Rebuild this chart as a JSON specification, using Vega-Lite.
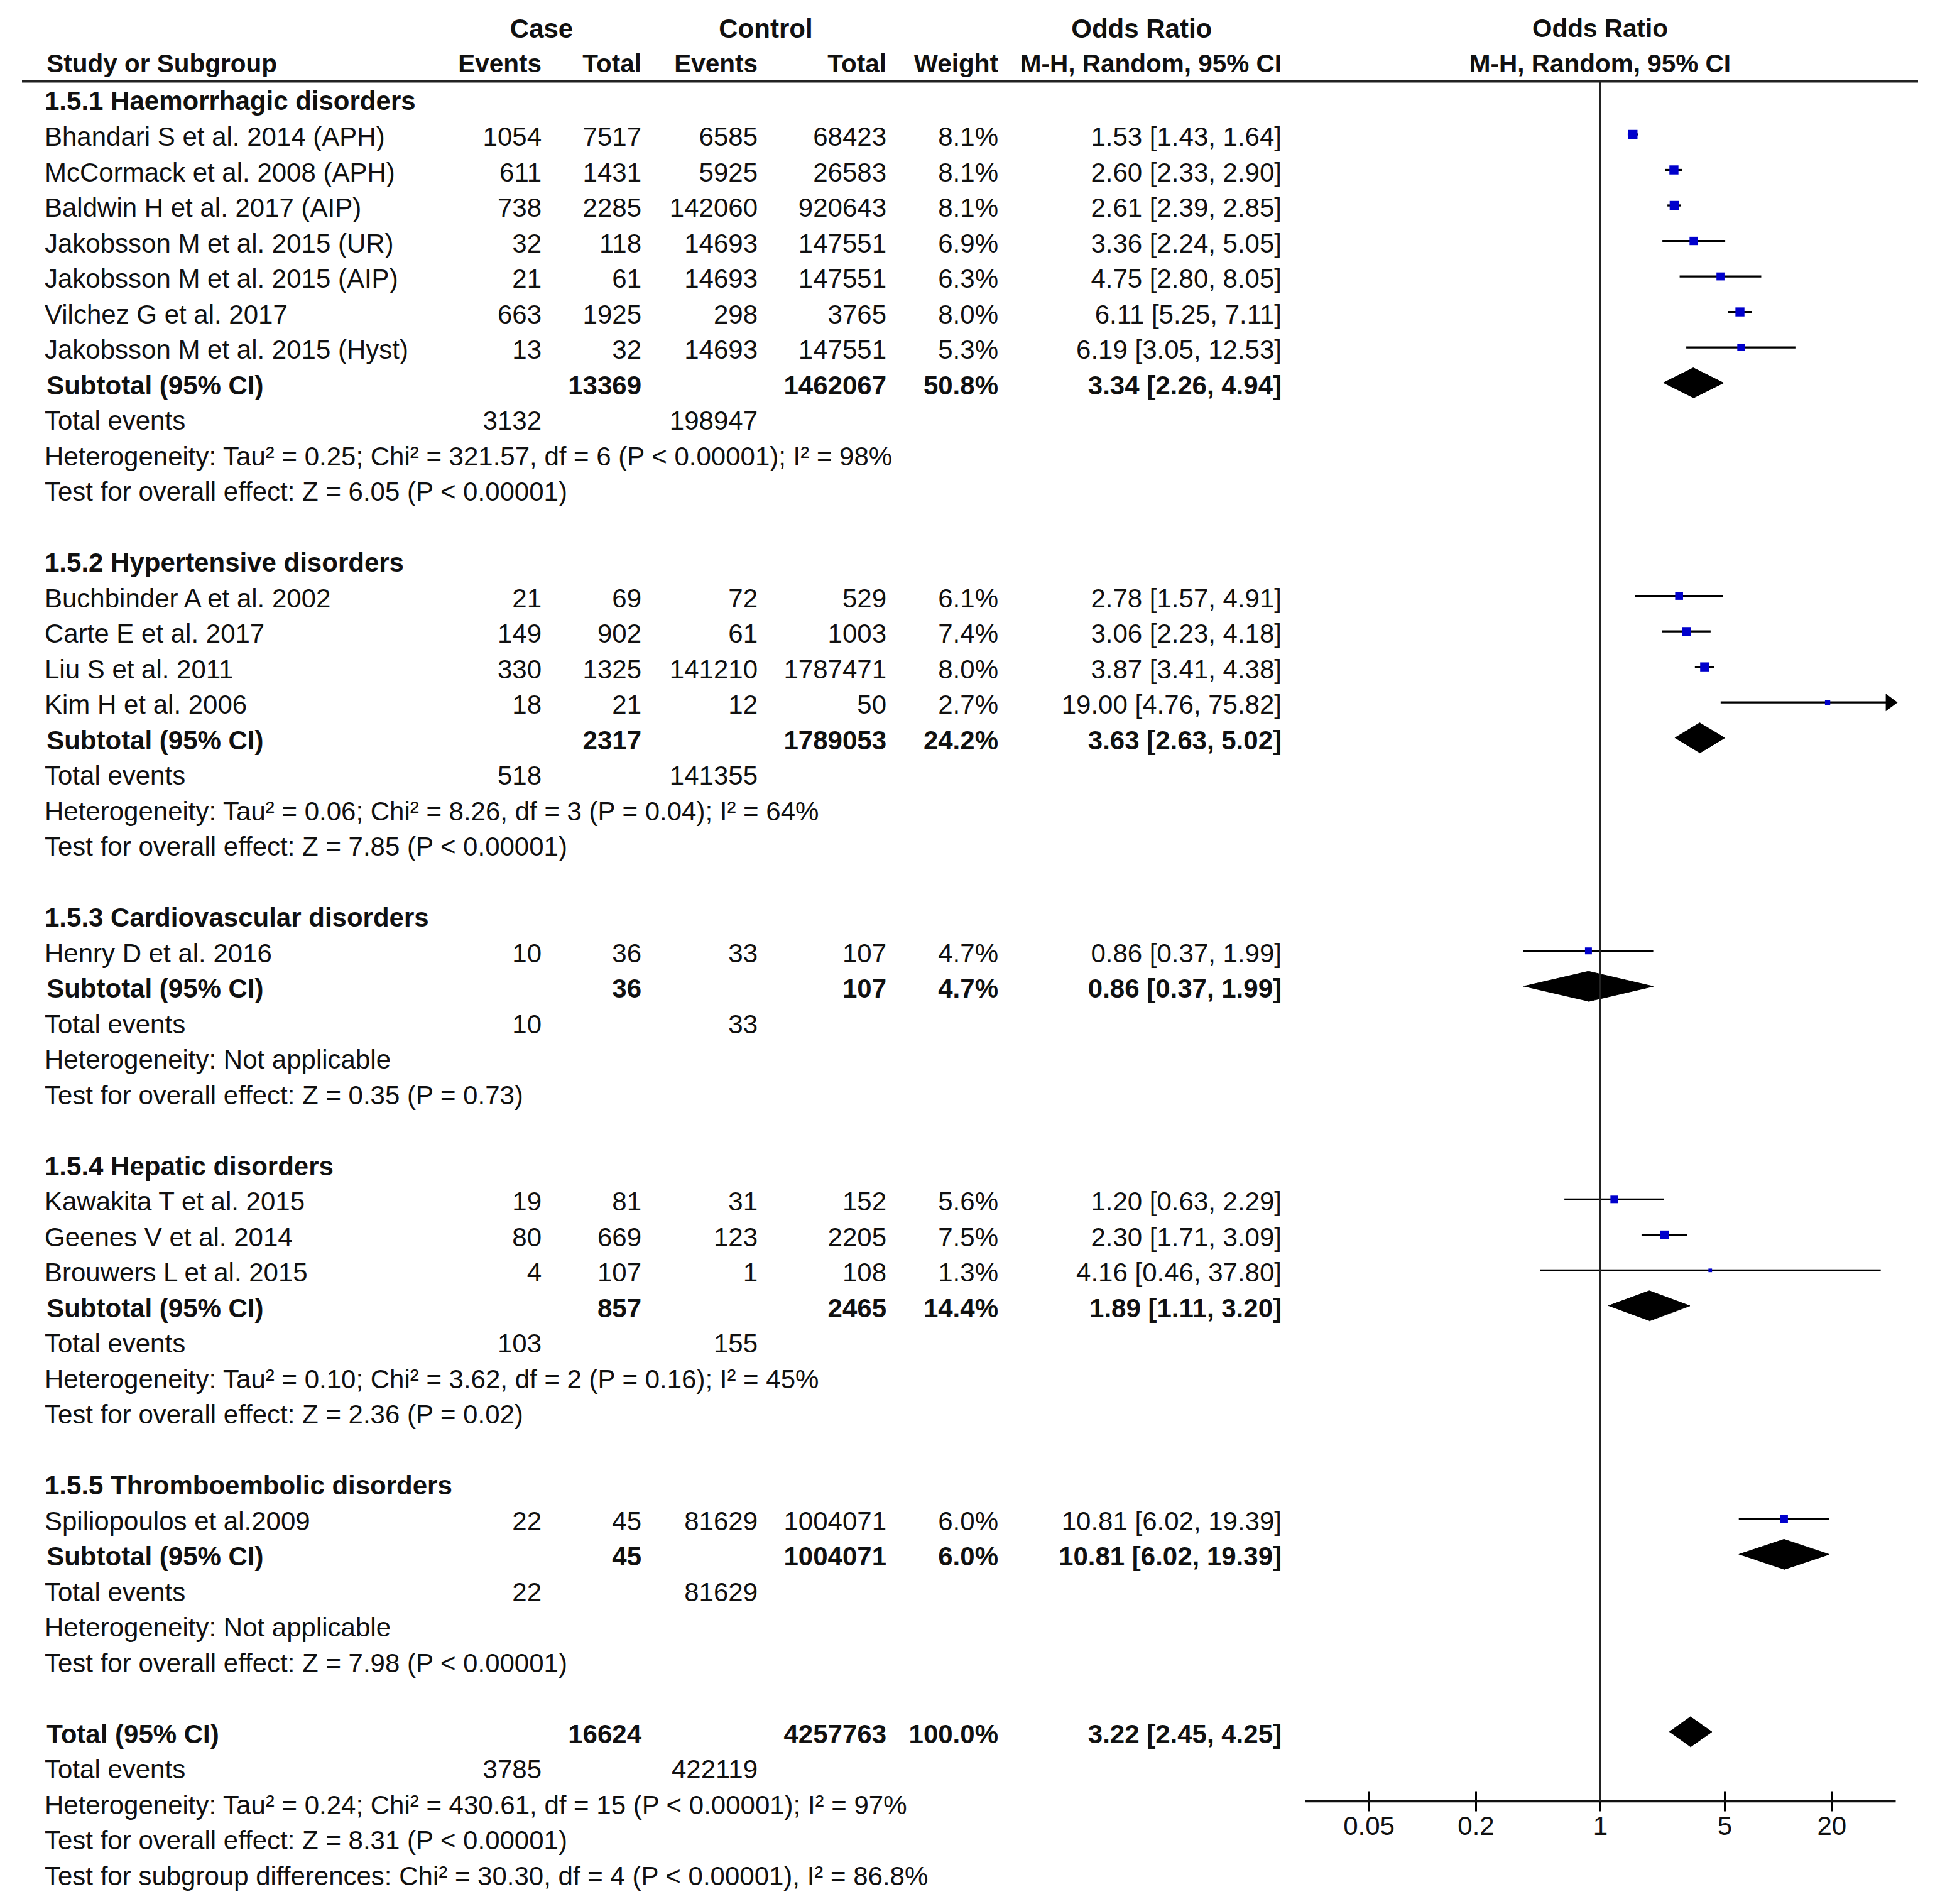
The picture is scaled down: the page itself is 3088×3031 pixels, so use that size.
{
  "$schema": "https://vega.github.io/schema/vega-lite/v6.json",
  "width": 3088,
  "height": 3031,
  "padding": 0,
  "autosize": {"type": "none"},
  "background": "white",
  "config": {
    "view": {"stroke": null},
    "text": {"font": "Liberation Sans", "fontSize": 42, "color": "#111111", "baseline": "middle", "dy": 5}
  },
  "datasets": {
    "studies": [
      {"line": 1, "study": "Bhandari S et al. 2014 (APH)", "ce": 1054, "ct": 7517, "ne": 6585, "nt": 68423, "w": 0.081, "est": 1.53, "lo": 1.43, "hi": 1.64, "ci": "1.53 [1.43, 1.64]"},
      {"line": 2, "study": "McCormack et al. 2008 (APH)", "ce": 611, "ct": 1431, "ne": 5925, "nt": 26583, "w": 0.081, "est": 2.60, "lo": 2.33, "hi": 2.90, "ci": "2.60 [2.33, 2.90]"},
      {"line": 3, "study": "Baldwin H et al. 2017 (AIP)", "ce": 738, "ct": 2285, "ne": 142060, "nt": 920643, "w": 0.081, "est": 2.61, "lo": 2.39, "hi": 2.85, "ci": "2.61 [2.39, 2.85]"},
      {"line": 4, "study": "Jakobsson M et al. 2015 (UR)", "ce": 32, "ct": 118, "ne": 14693, "nt": 147551, "w": 0.069, "est": 3.36, "lo": 2.24, "hi": 5.05, "ci": "3.36 [2.24, 5.05]"},
      {"line": 5, "study": "Jakobsson M et al. 2015 (AIP)", "ce": 21, "ct": 61, "ne": 14693, "nt": 147551, "w": 0.063, "est": 4.75, "lo": 2.80, "hi": 8.05, "ci": "4.75 [2.80, 8.05]"},
      {"line": 6, "study": "Vilchez G et al. 2017", "ce": 663, "ct": 1925, "ne": 298, "nt": 3765, "w": 0.080, "est": 6.11, "lo": 5.25, "hi": 7.11, "ci": "6.11 [5.25, 7.11]"},
      {"line": 7, "study": "Jakobsson M et al. 2015 (Hyst)", "ce": 13, "ct": 32, "ne": 14693, "nt": 147551, "w": 0.053, "est": 6.19, "lo": 3.05, "hi": 12.53, "ci": "6.19 [3.05, 12.53]"},
      {"line": 14, "study": "Buchbinder A  et al. 2002", "ce": 21, "ct": 69, "ne": 72, "nt": 529, "w": 0.061, "est": 2.78, "lo": 1.57, "hi": 4.91, "ci": "2.78 [1.57, 4.91]"},
      {"line": 15, "study": "Carte E  et al. 2017", "ce": 149, "ct": 902, "ne": 61, "nt": 1003, "w": 0.074, "est": 3.06, "lo": 2.23, "hi": 4.18, "ci": "3.06 [2.23, 4.18]"},
      {"line": 16, "study": "Liu S et al. 2011", "ce": 330, "ct": 1325, "ne": 141210, "nt": 1787471, "w": 0.080, "est": 3.87, "lo": 3.41, "hi": 4.38, "ci": "3.87 [3.41, 4.38]"},
      {"line": 17, "study": "Kim H et al. 2006", "ce": 18, "ct": 21, "ne": 12, "nt": 50, "w": 0.027, "est": 19.00, "lo": 4.76, "hi": 75.82, "ci": "19.00 [4.76, 75.82]"},
      {"line": 24, "study": "Henry D et al. 2016", "ce": 10, "ct": 36, "ne": 33, "nt": 107, "w": 0.047, "est": 0.86, "lo": 0.37, "hi": 1.99, "ci": "0.86 [0.37, 1.99]"},
      {"line": 31, "study": "Kawakita T et al. 2015", "ce": 19, "ct": 81, "ne": 31, "nt": 152, "w": 0.056, "est": 1.20, "lo": 0.63, "hi": 2.29, "ci": "1.20 [0.63, 2.29]"},
      {"line": 32, "study": "Geenes V et al. 2014", "ce": 80, "ct": 669, "ne": 123, "nt": 2205, "w": 0.075, "est": 2.30, "lo": 1.71, "hi": 3.09, "ci": "2.30 [1.71, 3.09]"},
      {"line": 33, "study": "Brouwers L et al. 2015", "ce": 4, "ct": 107, "ne": 1, "nt": 108, "w": 0.013, "est": 4.16, "lo": 0.46, "hi": 37.80, "ci": "4.16 [0.46, 37.80]"},
      {"line": 40, "study": "Spiliopoulos et al.2009", "ce": 22, "ct": 45, "ne": 81629, "nt": 1004071, "w": 0.060, "est": 10.81, "lo": 6.02, "hi": 19.39, "ci": "10.81 [6.02, 19.39]"}
    ],
    "subtotals": [
      {"line": 8, "label": "Subtotal (95% CI)", "ct": 13369, "nt": 1462067, "w": 0.508, "est": 3.34, "lo": 2.26, "hi": 4.94, "ci": "3.34 [2.26, 4.94]"},
      {"line": 18, "label": "Subtotal (95% CI)", "ct": 2317, "nt": 1789053, "w": 0.242, "est": 3.63, "lo": 2.63, "hi": 5.02, "ci": "3.63 [2.63, 5.02]"},
      {"line": 25, "label": "Subtotal (95% CI)", "ct": 36, "nt": 107, "w": 0.047, "est": 0.86, "lo": 0.37, "hi": 1.99, "ci": "0.86 [0.37, 1.99]"},
      {"line": 34, "label": "Subtotal (95% CI)", "ct": 857, "nt": 2465, "w": 0.144, "est": 1.89, "lo": 1.11, "hi": 3.20, "ci": "1.89 [1.11, 3.20]"},
      {"line": 41, "label": "Subtotal (95% CI)", "ct": 45, "nt": 1004071, "w": 0.060, "est": 10.81, "lo": 6.02, "hi": 19.39, "ci": "10.81 [6.02, 19.39]"},
      {"line": 46, "label": "Total (95% CI)", "ct": 16624, "nt": 4257763, "w": 1.0, "est": 3.22, "lo": 2.45, "hi": 4.25, "ci": "3.22 [2.45, 4.25]"}
    ],
    "events": [
      {"line": 9, "ce": 3132, "ne": 198947},
      {"line": 19, "ce": 518, "ne": 141355},
      {"line": 26, "ce": 10, "ne": 33},
      {"line": 35, "ce": 103, "ne": 155},
      {"line": 42, "ce": 22, "ne": 81629},
      {"line": 47, "ce": 3785, "ne": 422119}
    ],
    "notes": [
      {"line": 0, "text": "1.5.1 Haemorrhagic disorders", "kind": "heading"},
      {"line": 10, "text": "Heterogeneity: Tau² = 0.25; Chi² = 321.57, df = 6 (P < 0.00001); I² = 98%", "kind": "note"},
      {"line": 11, "text": "Test for overall effect: Z = 6.05 (P < 0.00001)", "kind": "note"},
      {"line": 13, "text": "1.5.2 Hypertensive disorders", "kind": "heading"},
      {"line": 20, "text": "Heterogeneity: Tau² = 0.06; Chi² = 8.26, df = 3 (P = 0.04); I² = 64%", "kind": "note"},
      {"line": 21, "text": "Test for overall effect: Z = 7.85 (P < 0.00001)", "kind": "note"},
      {"line": 23, "text": "1.5.3 Cardiovascular disorders", "kind": "heading"},
      {"line": 27, "text": "Heterogeneity: Not applicable", "kind": "note"},
      {"line": 28, "text": "Test for overall effect: Z = 0.35 (P = 0.73)", "kind": "note"},
      {"line": 30, "text": "1.5.4 Hepatic disorders", "kind": "heading"},
      {"line": 36, "text": "Heterogeneity: Tau² = 0.10; Chi² = 3.62, df = 2 (P = 0.16); I² = 45%", "kind": "note"},
      {"line": 37, "text": "Test for overall effect: Z = 2.36 (P = 0.02)", "kind": "note"},
      {"line": 39, "text": "1.5.5 Thromboembolic disorders", "kind": "heading"},
      {"line": 43, "text": "Heterogeneity: Not applicable", "kind": "note"},
      {"line": 44, "text": "Test for overall effect: Z = 7.98 (P < 0.00001)", "kind": "note"},
      {"line": 48, "text": "Heterogeneity: Tau² = 0.24; Chi² = 430.61, df = 15 (P < 0.00001); I² = 97%", "kind": "note"},
      {"line": 49, "text": "Test for overall effect: Z = 8.31 (P < 0.00001)", "kind": "note"},
      {"line": 50, "text": "Test for subgroup differences: Chi² = 30.30, df = 4 (P < 0.00001), I² = 86.8%", "kind": "note"}
    ]
  },
  "resolve": {"scale": {"x": "independent", "y": "independent"}, "axis": {"x": "independent"}},
  "layer": [
    {
      "data": {"name": "studies"},
      "mark": {"type": "rule", "color": "#000000", "strokeWidth": 3.3},
      "encoding": {
        "x": {"field": "lo", "type": "quantitative", "scale": {"type": "log", "domain": [0.0219, 45.7], "range": [2077, 3017], "clamp": true, "nice": false},
              "axis": {"orient": "top", "offset": -2867, "values": [0.05, 0.2, 1, 5, 20], "title": null, "grid": false, "domain": false, "labels": false, "ticks": true, "tickSize": 16, "tickWidth": 3, "tickColor": "#000000"}},
        "x2": {"field": "hi"},
        "y": {"field": "line", "type": "quantitative", "scale": {"domain": [-2.787, 50.85], "reverse": true, "nice": false, "zero": false}, "axis": null}
      }
    },
    {
      "data": {"name": "studies"},
      "transform": [{"filter": "datum.hi > 45.7"}],
      "mark": {"type": "point", "shape": "M-1.1,-1L0.25,0L-1.1,1Z", "filled": true, "color": "#000000", "opacity": 1, "size": 784},
      "encoding": {
        "x": {"field": "hi", "type": "quantitative", "scale": {"type": "log", "domain": [0.0219, 45.7], "range": [2077, 3017], "clamp": true, "nice": false}, "axis": null},
        "y": {"field": "line", "type": "quantitative", "scale": {"domain": [-2.787, 50.85], "reverse": true, "nice": false, "zero": false}, "axis": null}
      }
    },
    {
      "data": {"name": "studies"},
      "mark": {"type": "square", "filled": true, "color": "#0000CC", "opacity": 1},
      "encoding": {
        "x": {"field": "est", "type": "quantitative", "scale": {"type": "log", "domain": [0.0219, 45.7], "range": [2077, 3017], "clamp": true, "nice": false}, "axis": null},
        "y": {"field": "line", "type": "quantitative", "scale": {"domain": [-2.787, 50.85], "reverse": true, "nice": false, "zero": false}, "axis": null},
        "size": {"field": "w", "type": "quantitative", "scale": {"domain": [0, 0.1], "range": [0, 258]}, "legend": null}
      }
    },
    {
      "data": {"name": "subtotals"},
      "transform": [
        {"fold": ["lo", "est", "hi", "est"], "as": ["point", "value"]},
        {"window": [{"op": "row_number", "as": "vertex"}], "groupby": ["line"]}
      ],
      "mark": {"type": "line", "fill": "#000000", "stroke": "#000000", "strokeWidth": 1, "opacity": 1},
      "encoding": {
        "x": {"field": "value", "type": "quantitative", "scale": {"type": "log", "domain": [0.0219, 45.7], "range": [2077, 3017], "clamp": true, "nice": false}, "axis": null},
        "y": {"field": "line", "type": "ordinal", "scale": {"type": "band", "domain": [0,1,2,3,4,5,6,7,8,9,10,11,12,13,14,15,16,17,18,19,20,21,22,23,24,25,26,27,28,29,30,31,32,33,34,35,36,37,38,39,40,41,42,43,44,45,46,47,48,49,50], "range": [129.245, 3011.255], "paddingInner": 0, "paddingOuter": 0}, "axis": null},
        "yOffset": {"field": "vertex", "type": "quantitative", "scale": {"domain": [1, 2, 3, 4], "range": [28.255, 4.255, 28.255, 52.255], "nice": false, "zero": false}},
        "order": {"field": "vertex", "type": "quantitative"},
        "detail": {"field": "line", "type": "nominal"}
      }
    },
    {
      "data": {"values": [{"ref": 1}]},
      "mark": {"type": "rule", "color": "#222222", "strokeWidth": 3.3},
      "encoding": {
        "x": {"field": "ref", "type": "quantitative", "scale": {"type": "log", "domain": [0.0219, 45.7], "range": [2077, 3017], "clamp": true, "nice": false},
              "axis": {"orient": "bottom", "offset": -164, "values": [0.05, 0.2, 1, 5, 20], "format": "~g", "title": null, "grid": false, "domain": true, "domainColor": "#111111", "domainWidth": 3.5, "ticks": true, "tickSize": 16, "tickWidth": 3, "tickColor": "#000000", "labels": true, "labelFont": "Liberation Sans", "labelFontSize": 42, "labelColor": "#111111", "labelPadding": 4, "labelFlush": false, "labelOverlap": false}},
        "y": {"datum": -0.5, "type": "quantitative", "scale": {"domain": [-2.787, 50.85], "reverse": true, "nice": false, "zero": false}, "axis": null},
        "y2": {"datum": 47.95}
      }
    },
    {
      "data": {"values": [{"rule": "header"}]},
      "mark": {"type": "rule", "color": "#222222", "strokeWidth": 4.5},
      "encoding": {
        "x": {"datum": 0, "type": "quantitative", "scale": {"domain": [0, 1, 2, 3, 4, 5, 6, 7, 8], "range": [35, 71, 862, 1021, 1206, 1411, 1589, 2040, 3053], "nice": false, "zero": false}, "axis": null},
        "x2": {"datum": 8},
        "y": {"datum": -0.5, "type": "quantitative", "scale": {"domain": [-2.787, 50.85], "reverse": true, "nice": false, "zero": false}, "axis": null}
      }
    },
    {
      "data": {"values": [{"label": "Case"}]},
      "mark": {"type": "text", "align": "center", "fontWeight": "bold"},
      "encoding": {
        "x": {"datum": 2, "type": "quantitative", "scale": {"domain": [0, 1, 2, 3, 4, 5, 6, 7, 8], "range": [35, 71, 862, 1021, 1206, 1411, 1589, 2040, 3053], "nice": false, "zero": false}, "axis": null},
        "y": {"datum": -2.05, "type": "quantitative", "scale": {"domain": [-2.787, 50.85], "reverse": true, "nice": false, "zero": false}, "axis": null},
        "text": {"field": "label"}
      }
    },
    {
      "data": {"values": [{"label": "Control"}]},
      "mark": {"type": "text", "align": "center", "fontWeight": "bold"},
      "encoding": {
        "x": {"datum": 4.063, "type": "quantitative", "scale": {"domain": [0, 1, 2, 3, 4, 5, 6, 7, 8], "range": [35, 71, 862, 1021, 1206, 1411, 1589, 2040, 3053], "nice": false, "zero": false}, "axis": null},
        "y": {"datum": -2.05, "type": "quantitative", "scale": {"domain": [-2.787, 50.85], "reverse": true, "nice": false, "zero": false}, "axis": null},
        "text": {"field": "label"}
      }
    },
    {
      "data": {"values": [{"label": "Odds Ratio"}]},
      "mark": {"type": "text", "align": "center", "fontWeight": "bold"},
      "encoding": {
        "x": {"datum": 6.506, "type": "quantitative", "scale": {"domain": [0, 1, 2, 3, 4, 5, 6, 7, 8], "range": [35, 71, 862, 1021, 1206, 1411, 1589, 2040, 3053], "nice": false, "zero": false}, "axis": null},
        "y": {"datum": -2.05, "type": "quantitative", "scale": {"domain": [-2.787, 50.85], "reverse": true, "nice": false, "zero": false}, "axis": null},
        "text": {"field": "label"}
      }
    },
    {
      "data": {"values": [{"label": "Study or Subgroup"}]},
      "mark": {"type": "text", "align": "left", "fontWeight": "bold", "fontSize": 40.5},
      "encoding": {
        "x": {"datum": 1.004, "type": "quantitative", "scale": {"domain": [0, 1, 2, 3, 4, 5, 6, 7, 8], "range": [35, 71, 862, 1021, 1206, 1411, 1589, 2040, 3053], "nice": false, "zero": false}, "axis": null},
        "y": {"datum": -1.06, "type": "quantitative", "scale": {"domain": [-2.787, 50.85], "reverse": true, "nice": false, "zero": false}, "axis": null},
        "text": {"field": "label"}
      }
    },
    {
      "data": {"values": [{"label": "Events", "col": 2}, {"label": "Total", "col": 3}, {"label": "Events", "col": 4}, {"label": "Total", "col": 5}, {"label": "Weight", "col": 6}, {"label": "M-H, Random, 95% CI", "col": 7}]},
      "mark": {"type": "text", "align": "right", "fontWeight": "bold", "fontSize": 40.5},
      "encoding": {
        "x": {"field": "col", "type": "quantitative", "scale": {"domain": [0, 1, 2, 3, 4, 5, 6, 7, 8], "range": [35, 71, 862, 1021, 1206, 1411, 1589, 2040, 3053], "nice": false, "zero": false}, "axis": null},
        "y": {"datum": -1.06, "type": "quantitative", "scale": {"domain": [-2.787, 50.85], "reverse": true, "nice": false, "zero": false}, "axis": null},
        "text": {"field": "label"}
      }
    },
    {
      "data": {"values": [{"label": "Odds Ratio", "ref": 1, "tier": -2.05}, {"label": "M-H, Random, 95% CI", "ref": 1, "tier": -1.06}]},
      "mark": {"type": "text", "align": "center", "fontWeight": "bold", "fontSize": 40.5},
      "encoding": {
        "x": {"field": "ref", "type": "quantitative", "scale": {"type": "log", "domain": [0.0219, 45.7], "range": [2077, 3017], "clamp": true, "nice": false}, "axis": null},
        "y": {"field": "tier", "type": "quantitative", "scale": {"domain": [-2.787, 50.85], "reverse": true, "nice": false, "zero": false}, "axis": null},
        "text": {"field": "label"}
      }
    },
    {
      "data": {"name": "notes"},
      "transform": [{"filter": "datum.kind == 'heading'"}],
      "mark": {"type": "text", "align": "left", "fontWeight": "bold"},
      "encoding": {
        "x": {"datum": 1, "type": "quantitative", "scale": {"domain": [0, 1, 2, 3, 4, 5, 6, 7, 8], "range": [35, 71, 862, 1021, 1206, 1411, 1589, 2040, 3053], "nice": false, "zero": false}, "axis": null},
        "y": {"field": "line", "type": "quantitative", "scale": {"domain": [-2.787, 50.85], "reverse": true, "nice": false, "zero": false}, "axis": null},
        "text": {"field": "text"}
      }
    },
    {
      "data": {"name": "notes"},
      "transform": [{"filter": "datum.kind == 'note'"}],
      "mark": {"type": "text", "align": "left"},
      "encoding": {
        "x": {"datum": 1, "type": "quantitative", "scale": {"domain": [0, 1, 2, 3, 4, 5, 6, 7, 8], "range": [35, 71, 862, 1021, 1206, 1411, 1589, 2040, 3053], "nice": false, "zero": false}, "axis": null},
        "y": {"field": "line", "type": "quantitative", "scale": {"domain": [-2.787, 50.85], "reverse": true, "nice": false, "zero": false}, "axis": null},
        "text": {"field": "text"}
      }
    },
    {
      "data": {"name": "studies"},
      "mark": {"type": "text", "align": "left"},
      "encoding": {
        "x": {"datum": 1, "type": "quantitative", "scale": {"domain": [0, 1, 2, 3, 4, 5, 6, 7, 8], "range": [35, 71, 862, 1021, 1206, 1411, 1589, 2040, 3053], "nice": false, "zero": false}, "axis": null},
        "y": {"field": "line", "type": "quantitative", "scale": {"domain": [-2.787, 50.85], "reverse": true, "nice": false, "zero": false}, "axis": null},
        "text": {"field": "study"}
      }
    },
    {
      "data": {"name": "studies"},
      "mark": {"type": "text", "align": "right"},
      "encoding": {
        "x": {"datum": 2, "type": "quantitative", "scale": {"domain": [0, 1, 2, 3, 4, 5, 6, 7, 8], "range": [35, 71, 862, 1021, 1206, 1411, 1589, 2040, 3053], "nice": false, "zero": false}, "axis": null},
        "y": {"field": "line", "type": "quantitative", "scale": {"domain": [-2.787, 50.85], "reverse": true, "nice": false, "zero": false}, "axis": null},
        "text": {"field": "ce", "type": "quantitative", "format": "d"}
      }
    },
    {
      "data": {"name": "studies"},
      "mark": {"type": "text", "align": "right"},
      "encoding": {
        "x": {"datum": 3, "type": "quantitative", "scale": {"domain": [0, 1, 2, 3, 4, 5, 6, 7, 8], "range": [35, 71, 862, 1021, 1206, 1411, 1589, 2040, 3053], "nice": false, "zero": false}, "axis": null},
        "y": {"field": "line", "type": "quantitative", "scale": {"domain": [-2.787, 50.85], "reverse": true, "nice": false, "zero": false}, "axis": null},
        "text": {"field": "ct", "type": "quantitative", "format": "d"}
      }
    },
    {
      "data": {"name": "studies"},
      "mark": {"type": "text", "align": "right"},
      "encoding": {
        "x": {"datum": 4, "type": "quantitative", "scale": {"domain": [0, 1, 2, 3, 4, 5, 6, 7, 8], "range": [35, 71, 862, 1021, 1206, 1411, 1589, 2040, 3053], "nice": false, "zero": false}, "axis": null},
        "y": {"field": "line", "type": "quantitative", "scale": {"domain": [-2.787, 50.85], "reverse": true, "nice": false, "zero": false}, "axis": null},
        "text": {"field": "ne", "type": "quantitative", "format": "d"}
      }
    },
    {
      "data": {"name": "studies"},
      "mark": {"type": "text", "align": "right"},
      "encoding": {
        "x": {"datum": 5, "type": "quantitative", "scale": {"domain": [0, 1, 2, 3, 4, 5, 6, 7, 8], "range": [35, 71, 862, 1021, 1206, 1411, 1589, 2040, 3053], "nice": false, "zero": false}, "axis": null},
        "y": {"field": "line", "type": "quantitative", "scale": {"domain": [-2.787, 50.85], "reverse": true, "nice": false, "zero": false}, "axis": null},
        "text": {"field": "nt", "type": "quantitative", "format": "d"}
      }
    },
    {
      "data": {"name": "studies"},
      "mark": {"type": "text", "align": "right"},
      "encoding": {
        "x": {"datum": 6, "type": "quantitative", "scale": {"domain": [0, 1, 2, 3, 4, 5, 6, 7, 8], "range": [35, 71, 862, 1021, 1206, 1411, 1589, 2040, 3053], "nice": false, "zero": false}, "axis": null},
        "y": {"field": "line", "type": "quantitative", "scale": {"domain": [-2.787, 50.85], "reverse": true, "nice": false, "zero": false}, "axis": null},
        "text": {"field": "w", "type": "quantitative", "format": ".1%"}
      }
    },
    {
      "data": {"name": "studies"},
      "mark": {"type": "text", "align": "right"},
      "encoding": {
        "x": {"datum": 7, "type": "quantitative", "scale": {"domain": [0, 1, 2, 3, 4, 5, 6, 7, 8], "range": [35, 71, 862, 1021, 1206, 1411, 1589, 2040, 3053], "nice": false, "zero": false}, "axis": null},
        "y": {"field": "line", "type": "quantitative", "scale": {"domain": [-2.787, 50.85], "reverse": true, "nice": false, "zero": false}, "axis": null},
        "text": {"field": "ci"}
      }
    },
    {
      "data": {"name": "subtotals"},
      "mark": {"type": "text", "align": "left", "fontWeight": "bold"},
      "encoding": {
        "x": {"datum": 1.004, "type": "quantitative", "scale": {"domain": [0, 1, 2, 3, 4, 5, 6, 7, 8], "range": [35, 71, 862, 1021, 1206, 1411, 1589, 2040, 3053], "nice": false, "zero": false}, "axis": null},
        "y": {"field": "line", "type": "quantitative", "scale": {"domain": [-2.787, 50.85], "reverse": true, "nice": false, "zero": false}, "axis": null},
        "text": {"field": "label"}
      }
    },
    {
      "data": {"name": "subtotals"},
      "mark": {"type": "text", "align": "right", "fontWeight": "bold"},
      "encoding": {
        "x": {"datum": 3, "type": "quantitative", "scale": {"domain": [0, 1, 2, 3, 4, 5, 6, 7, 8], "range": [35, 71, 862, 1021, 1206, 1411, 1589, 2040, 3053], "nice": false, "zero": false}, "axis": null},
        "y": {"field": "line", "type": "quantitative", "scale": {"domain": [-2.787, 50.85], "reverse": true, "nice": false, "zero": false}, "axis": null},
        "text": {"field": "ct", "type": "quantitative", "format": "d"}
      }
    },
    {
      "data": {"name": "subtotals"},
      "mark": {"type": "text", "align": "right", "fontWeight": "bold"},
      "encoding": {
        "x": {"datum": 5, "type": "quantitative", "scale": {"domain": [0, 1, 2, 3, 4, 5, 6, 7, 8], "range": [35, 71, 862, 1021, 1206, 1411, 1589, 2040, 3053], "nice": false, "zero": false}, "axis": null},
        "y": {"field": "line", "type": "quantitative", "scale": {"domain": [-2.787, 50.85], "reverse": true, "nice": false, "zero": false}, "axis": null},
        "text": {"field": "nt", "type": "quantitative", "format": "d"}
      }
    },
    {
      "data": {"name": "subtotals"},
      "mark": {"type": "text", "align": "right", "fontWeight": "bold"},
      "encoding": {
        "x": {"datum": 6, "type": "quantitative", "scale": {"domain": [0, 1, 2, 3, 4, 5, 6, 7, 8], "range": [35, 71, 862, 1021, 1206, 1411, 1589, 2040, 3053], "nice": false, "zero": false}, "axis": null},
        "y": {"field": "line", "type": "quantitative", "scale": {"domain": [-2.787, 50.85], "reverse": true, "nice": false, "zero": false}, "axis": null},
        "text": {"field": "w", "type": "quantitative", "format": ".1%"}
      }
    },
    {
      "data": {"name": "subtotals"},
      "mark": {"type": "text", "align": "right", "fontWeight": "bold"},
      "encoding": {
        "x": {"datum": 7, "type": "quantitative", "scale": {"domain": [0, 1, 2, 3, 4, 5, 6, 7, 8], "range": [35, 71, 862, 1021, 1206, 1411, 1589, 2040, 3053], "nice": false, "zero": false}, "axis": null},
        "y": {"field": "line", "type": "quantitative", "scale": {"domain": [-2.787, 50.85], "reverse": true, "nice": false, "zero": false}, "axis": null},
        "text": {"field": "ci"}
      }
    },
    {
      "data": {"name": "events"},
      "mark": {"type": "text", "align": "left"},
      "encoding": {
        "x": {"datum": 1, "type": "quantitative", "scale": {"domain": [0, 1, 2, 3, 4, 5, 6, 7, 8], "range": [35, 71, 862, 1021, 1206, 1411, 1589, 2040, 3053], "nice": false, "zero": false}, "axis": null},
        "y": {"field": "line", "type": "quantitative", "scale": {"domain": [-2.787, 50.85], "reverse": true, "nice": false, "zero": false}, "axis": null},
        "text": {"value": "Total events"}
      }
    },
    {
      "data": {"name": "events"},
      "mark": {"type": "text", "align": "right"},
      "encoding": {
        "x": {"datum": 2, "type": "quantitative", "scale": {"domain": [0, 1, 2, 3, 4, 5, 6, 7, 8], "range": [35, 71, 862, 1021, 1206, 1411, 1589, 2040, 3053], "nice": false, "zero": false}, "axis": null},
        "y": {"field": "line", "type": "quantitative", "scale": {"domain": [-2.787, 50.85], "reverse": true, "nice": false, "zero": false}, "axis": null},
        "text": {"field": "ce", "type": "quantitative", "format": "d"}
      }
    },
    {
      "data": {"name": "events"},
      "mark": {"type": "text", "align": "right"},
      "encoding": {
        "x": {"datum": 4, "type": "quantitative", "scale": {"domain": [0, 1, 2, 3, 4, 5, 6, 7, 8], "range": [35, 71, 862, 1021, 1206, 1411, 1589, 2040, 3053], "nice": false, "zero": false}, "axis": null},
        "y": {"field": "line", "type": "quantitative", "scale": {"domain": [-2.787, 50.85], "reverse": true, "nice": false, "zero": false}, "axis": null},
        "text": {"field": "ne", "type": "quantitative", "format": "d"}
      }
    }
  ]
}
